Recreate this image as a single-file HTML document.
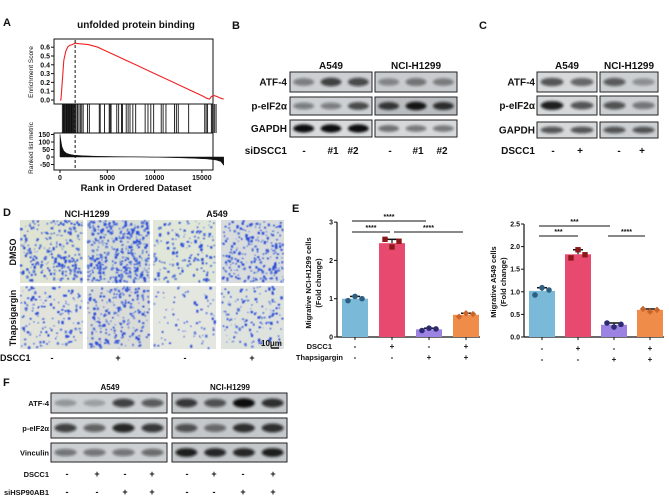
<!DOCTYPE html>
<html><head><meta charset="utf-8"><style>
html,body{margin:0;padding:0;background:#fff;}
svg{display:block;font-family:"Liberation Sans",Arial,sans-serif;}
.b{font-weight:bold;}
</style></head><body>
<svg id="fig" width="669" height="497" viewBox="0 0 669 497" xmlns="http://www.w3.org/2000/svg">
<defs>
<filter id="blur" x="-20%" y="-50%" width="140%" height="200%"><feGaussianBlur stdDeviation="1.3"/></filter>
<filter id="blur2"><feGaussianBlur stdDeviation="0.4"/></filter>
</defs>
<g id="panelA"></g>
<g id="panelB"></g>
<g id="panelC"></g>
<g id="panelD"></g>
<g id="panelE"></g>
<g id="panelF"></g>
</svg>
<script>
// ---------- DATA ----------
const esRanks = [0,100,200,400,600,800,1000,1300,1600,2000,3000,4000,5000,6000,8000,10000,12000,14000,15000,15500,15800,16000,16300,16600,17000,17300];
const esValues = [0,0,0.15,0.45,0.55,0.6,0.62,0.63,0.645,0.64,0.63,0.6,0.55,0.5,0.4,0.3,0.2,0.1,0.05,0.02,0.01,0.04,0.05,0.04,0.02,0.01];
const hitRanks = [250,350,420,500,560,650,720,800,880,950,1020,1100,1180,1250,1330,1420,1500,1600,1700,1850,2000,2150,2300,2450,2900,3100,4150,4250,4700,5200,5300,5400,6000,6200,6500,6600,7000,7200,7400,7700,8000,9000,9300,9600,9900,10700,10900,11200,12100,12300,12500,13600,15300,15450,15600,16000,16100,16200,16350,16500];
const rankX = [0,100,200,400,700,1000,1500,2500,4000,6000,8000,10000,12000,14000,15500,16500,17000,17300];
const rankMetric = [150,110,70,40,25,18,12,8,5,3,1,-1,-4,-8,-13,-20,-30,-55];
const esTicks = [0,0.1,0.2,0.3,0.4,0.5,0.6];
const rankTicksX = [0,5000,10000,15000];
const metricTicks = [150,100,50,0,-50];
const leadingEdge = 1600;

const barGroups = ["ctrl","DSCC1","Thapsigargin","DSCC1+Thapsigargin"];
const h1299Means = [1.0,2.45,0.2,0.58];
const h1299Points = [[0.95,1.06,1.0],[2.55,2.35,2.5],[0.17,0.23,0.21],[0.53,0.62,0.6]];
const a549Means = [1.02,1.83,0.27,0.6];
const a549Points = [[0.93,1.09,1.04],[1.75,1.93,1.82],[0.31,0.22,0.28],[0.62,0.56,0.6]];
const h1299Ticks = [0,1,2,3];
const a549Ticks = ["0.0","0.5","1.0","1.5","2.0","2.5"];
const dsccRow = ["-","+","-","+"];
const thapRow = ["-","-","+","+"];

// ---------- helpers ----------
const NS="http://www.w3.org/2000/svg";
function mk(parent,tag,attrs,text){const e=document.createElementNS(NS,tag);for(const k in attrs)e.setAttribute(k,attrs[k]);if(text!==undefined)e.textContent=text;parent.appendChild(e);return e;}
function txt(p,x,y,s,size,anchor,name,extra){const e=mk(p,'text',Object.assign({x:x,y:y,'font-size':size,'font-weight':'bold','text-anchor':anchor||'start',fill:'#111'},extra||{}),s);


return e;}

// ---------- Panel A ----------
(function(){
const g=document.getElementById('panelA');
txt(g,3,26,'A',11,'start','panel-label-a');
txt(g,136,28,'unfolded protein binding',10,'middle','gsea-title');
const x0=54,x1=213;
const xs=r=>60+r*(47.3/5000);
const ys=v=>100-v*88;
const ym=v=>157-v*0.15;
mk(g,'rect',{x:x0,y:39,width:x1-x0,height:65,fill:'none',stroke:'#111','stroke-width':1});
mk(g,'rect',{x:x0,y:133,width:x1-x0,height:37,fill:'none',stroke:'#111','stroke-width':1});
let d=esRanks.map((r,i)=>(i?'L':'M')+xs(r).toFixed(1)+','+ys(esValues[i]).toFixed(1)).join('');
const es=mk(g,'path',{d:d,fill:'none',stroke:'#ee2222','stroke-width':1.1});


esTicks.forEach(t=>{mk(g,'line',{x1:x0-3,x2:x0,y1:ys(t),y2:ys(t),stroke:'#111'});txt(g,x0-4,ys(t)+2.5,t.toFixed(1),7,'end','es-tick');});
const bc=mk(g,'g',{});


hitRanks.forEach(r=>mk(bc,'line',{x1:xs(r),x2:xs(r),y1:104,y2:133,stroke:'#111','stroke-width':0.9}));
let a='M'+xs(0)+','+ym(0)+rankX.map((r,i)=>'L'+xs(r).toFixed(1)+','+ym(rankMetric[i]).toFixed(1)).join('')+'L'+xs(17300)+','+ym(0)+'Z';
const area=mk(g,'path',{d:a,fill:'#111',stroke:'#111','stroke-width':0.5});


metricTicks.forEach(t=>{mk(g,'line',{x1:x0-3,x2:x0,y1:ym(t),y2:ym(t),stroke:'#111'});txt(g,x0-4,ym(t)+2.5,String(t),7,'end','metric-tick');});
rankTicksX.forEach(t=>{mk(g,'line',{x1:xs(t),x2:xs(t),y1:170,y2:173,stroke:'#111'});txt(g,xs(t),180,String(t),7,'middle','rank-tick');});
mk(g,'line',{x1:xs(leadingEdge),x2:xs(leadingEdge),y1:40,y2:170,stroke:'#111','stroke-dasharray':'3,2'});
txt(g,136,191,'Rank in Ordered Dataset',9.5,'middle','x-axis-title');
txt(g,0,0,'Enrichment Score',6.5,'middle','es-axis-title',{transform:'translate(33,72) rotate(-90)','font-weight':'normal'});
txt(g,0,0,'Ranked list metric',6.5,'middle','metric-axis-title',{transform:'translate(33,148) rotate(-90)','font-weight':'normal'});
})();

// ---------- blot helper ----------
function blot(g,x,y,w,h,lanes,bg,name){
 const bx=mk(g,'g',{});
 
 
 mk(bx,'rect',{x:x,y:y,width:w,height:h,fill:bg,stroke:'#222','stroke-width':1});
 const lw=w/lanes.length;
 lanes.forEach((v,i)=>{const cx=x+lw*(i+0.5);
  mk(bx,'ellipse',{cx:cx,cy:y+h/2,rx:lw*0.38,ry:h*0.16+v*h*0.08,fill:'#111','fill-opacity':Math.min(1,0.15+v*0.85),filter:'url(#blur)'});});
}

// ---------- Panel B ----------
(function(){
const g=document.getElementById('panelB');
txt(g,232,29,'B',11,'start','panel-label-b');
txt(g,331,69,'A549',10,'middle','cell-line-a549');
txt(g,416,69,'NCI-H1299',10,'middle','cell-line-h1299');
const rows=[['ATF-4',72,20,[0.35,0.7,0.65],[0.3,0.4,0.35],'#ccd0d2','#c8ccce'],['p-eIF2α',97,18,[0.35,0.35,0.65],[0.75,0.95,0.8],'#cdd1d3','#b9bdc0'],['GAPDH',120,17,[1,1,1],[0.45,0.4,0.4],'#d8dadb','#d6d8da']];
rows.forEach(r=>{txt(g,287,r[1]+r[2]/2+3.5,r[0],10,'end','row-label-'+r[0].toLowerCase());
 blot(g,290,r[1],82,r[2],r[3],r[5],'blot-a549-'+r[0]);blot(g,375,r[1],82,r[2],r[4],r[6],'blot-h1299-'+r[0]);});
txt(g,287,154,'siDSCC1',10,'end','sidscc1-label');
[['-',304],['#1',333],['#2',353],['-',390],['#1',418],['#2',442]].forEach(l=>txt(g,l[1],154,l[0],10,'middle','lane-label'));
})();

// ---------- Panel C ----------
(function(){
const g=document.getElementById('panelC');
txt(g,479,29,'C',11,'start','panel-label-c');
txt(g,567,69,'A549',10,'middle','cell-line-a549');
txt(g,629,69,'NCI-H1299',10,'middle','cell-line-h1299');
const rows=[['ATF-4',72,20,[0.6,0.5],[0.55,0.25]],['p-eIF2α',96,19,[0.9,0.6],[0.6,0.4]],['GAPDH',122,16,[0.6,0.6],[0.6,0.6]]];
rows.forEach(r=>{txt(g,535,r[1]+r[2]/2+3.5,r[0],10,'end','row-label-'+r[0].toLowerCase());
 blot(g,537,r[1],60,r[2],r[3],'#d6d8da','blot-a549-'+r[0]);blot(g,600,r[1],58,r[2],r[4],'#ccd0d2','blot-h1299-'+r[0]);});
txt(g,535,154,'DSCC1',10,'end','dscc1-label');
[['-',553],['+',580],['-',619],['+',642]].forEach(l=>txt(g,l[1],154,l[0],10,'middle','lane-label'));
})();

// ---------- Panel D ----------
(function(){
const g=document.getElementById('panelD');
txt(g,3,216,'D',11,'start','panel-label-d');
txt(g,87,217,'NCI-H1299',9,'middle','cell-line-h1299');
txt(g,217,217,'A549',9,'middle','cell-line-a549');
let seed=7;const rnd=()=>{seed=(seed*16807)%2147483647;return seed/2147483647;};
const cols=[20,87,153,221],rowsY=[220,286],dens=[[260,420,160,260],[150,230,70,140]];
const bgs=[['#dfe3d2','#d6dcd6','#e0e6d8','#d8dcdc'],['#e2e4dc','#dadcd8','#e4e6e0','#dfe3de']];
rowsY.forEach((y,ri)=>cols.forEach((x,ci)=>{
 const im=mk(g,'g',{});
 
 
 mk(im,'rect',{x:x,y:y,width:63,height:63,fill:bgs[ri][ci]});
 const dots=mk(im,'g',{filter:'url(#blur2)'});
 for(let k=0;k<dens[ri][ci];k++){const s=0.8+rnd()*1.8;mk(dots,'rect',{x:(x+rnd()*(63-s)).toFixed(1),y:(y+rnd()*(63-s)).toFixed(1),width:s.toFixed(1),height:(s*(0.6+rnd()*0.8)).toFixed(1),fill:rnd()<0.7?'#2f4fd8':'#5a7ad8'});}
}));
txt(g,0,0,'DMSO',9,'middle','row-label-dmso',{transform:'translate(16,252) rotate(-90)'});
txt(g,0,0,'Thapsigargin',9,'middle','row-label-thapsigargin',{transform:'translate(16,318) rotate(-90)'});
txt(g,261,346,'10μm',8,'start','scale-bar-label');
mk(g,'line',{x1:271,x2:279,y1:348,y2:348,stroke:'#111','stroke-width':1.5});
txt(g,0,361,'DSCC1',9,'start','dscc1-label');
[['-',52],['+',118],['-',185],['+',252]].forEach(l=>txt(g,l[1],361,l[0],9,'middle','lane-label'));
})();

// ---------- Panel E ----------
function barChart(g,axisX,axisEnd,yZero,unit,ticks,means,pts,centers,cols,dotCols,marker,prefix){
 const y=v=>yZero-v*unit;
 mk(g,'line',{x1:axisX,x2:axisX,y1:y(parseFloat(ticks[ticks.length-1])),y2:yZero,stroke:'#111','stroke-width':1.2});
 mk(g,'line',{x1:axisX,x2:axisEnd,y1:yZero,y2:yZero,stroke:'#111','stroke-width':1.2});
 ticks.forEach(t=>{const v=parseFloat(t);mk(g,'line',{x1:axisX-3,x2:axisX,y1:y(v),y2:y(v),stroke:'#111'});txt(g,axisX-4,y(v)+2.5,String(t),7,'end',prefix+'-y-tick');});
 means.forEach((m,i)=>{const c=centers[i];
  const r=mk(g,'rect',{x:c-13,y:y(m),width:26,height:yZero-y(m),fill:cols[i]});
  
  
  mk(g,'line',{x1:c,x2:c,y1:yZero,y2:yZero+3,stroke:'#111'});
  const ps=pts[i];const hi=Math.max(...ps);
  mk(g,'line',{x1:c,x2:c,y1:y(m),y2:y(hi),stroke:'#111','stroke-width':1.2});
  mk(g,'line',{x1:c-5,x2:c+5,y1:y(hi),y2:y(hi),stroke:'#111','stroke-width':1.5});
  ps.forEach((p,j)=>{const px=c-7+j*7;const mm=marker[i];
   let e;
   if(mm==='c')e=mk(g,'circle',{cx:px,cy:y(p),r:2.8,fill:dotCols[i]});
   else if(mm==='s')e=mk(g,'rect',{x:px-2.7,y:y(p)-2.7,width:5.4,height:5.4,fill:dotCols[i]});
   else e=mk(g,'path',{d:`M${px},${y(p)-3.2}L${px+3.2},${y(p)}L${px},${y(p)+3.2}L${px-3.2},${y(p)}Z`,fill:dotCols[i]});
   
   
  });
 });
}
function sig(g,x1,x2,yy,s){mk(g,'line',{x1:x1,x2:x2,y1:yy,y2:yy,stroke:'#111','stroke-width':0.9});txt(g,(x1+x2)/2,yy-2,s,7,'middle','significance-stars');}
(function(){
const g=document.getElementById('panelE');
txt(g,292,212,'E',11,'start','panel-label-e');
const cols=['#7bb9d8','#e84a6f','#9c82e2','#f08c4a'];
const c1=[355,392,429,466];
barChart(g,337,480,337,38.3,h1299Ticks,h1299Means,h1299Points,c1,cols,['#2f5f80','#8a1818','#2c2a72','#c9652a'],['c','s','c','d'],'h1299');
sig(g,352,426,221,'****');sig(g,352,390,232,'****');sig(g,394,463,232,'****');
txt(g,0,0,'Migrative NCI-H1299 cells',7.5,'middle','h1299-y-title',{transform:'translate(311,283) rotate(-90)'});
txt(g,0,0,'(Fold change)',7.5,'middle','h1299-y-title-2',{transform:'translate(321,283) rotate(-90)'});
txt(g,332,349,'DSCC1',7.5,'end','dscc1-label');
txt(g,343,360,'Thapsigargin',7.5,'end','thapsigargin-label');
c1.forEach((c,i)=>{txt(g,c,349,dsccRow[i],8,'middle','lane-label');txt(g,c,360,thapRow[i],8,'middle','lane-label');});
const c2=[542,578,614,650];
barChart(g,524,664,337,45.2,a549Ticks,a549Means,a549Points,c2,cols,['#2f5f80','#8a1818','#2c2a72','#c9652a'],['c','s','c','d'],'a549');
sig(g,539,610,226,'***');sig(g,539,578,236,'***');sig(g,608,645,236,'****');
txt(g,0,0,'Migrative A549 cells',7.5,'middle','a549-y-title',{transform:'translate(496,282) rotate(-90)'});
txt(g,0,0,'(Fold change)',7.5,'middle','a549-y-title-2',{transform:'translate(506,282) rotate(-90)'});
c2.forEach((c,i)=>{txt(g,c,351,dsccRow[i],8,'middle','lane-label');txt(g,c,362,thapRow[i],8,'middle','lane-label');});
})();

// ---------- Panel F ----------
(function(){
const g=document.getElementById('panelF');
txt(g,3,386,'F',11,'start','panel-label-f');
txt(g,110,390,'A549',8,'middle','cell-line-a549');
txt(g,230,390,'NCI-H1299',8,'middle','cell-line-h1299');
const rows=[['ATF-4',393,20,[0.15,0.1,0.7,0.55],[0.75,0.6,1,0.8]],['p-eIF2α',418,20,[0.7,0.5,0.85,0.75],[0.6,0.45,0.8,0.8]],['Vinculin',443,19,[0.4,0.4,0.4,0.45],[0.9,0.85,0.85,0.9]]];
rows.forEach(r=>{txt(g,49,r[1]+r[2]/2+3,r[0],7.5,'end','row-label-'+r[0].toLowerCase());
 blot(g,51,r[1],116,r[2],r[3],'#ccd0d2','blot-a549-'+r[0]);blot(g,172,r[1],115,r[2],r[4],'#c4c8ca','blot-h1299-'+r[0]);});
txt(g,49,477,'DSCC1',7.5,'end','dscc1-label');
txt(g,49,495,'siHSP90AB1',7.5,'end','sihsp90ab1-label');
const lx=[67,97,125,152,187,214,243,273];
const ds=['-','+','-','+','-','+','-','+'],si=['-','-','+','+','-','-','+','+'];
lx.forEach((x,i)=>{txt(g,x,477,ds[i],9,'middle','lane-label');txt(g,x,495,si[i],9,'middle','lane-label');});
})();
</script>
</body></html>
